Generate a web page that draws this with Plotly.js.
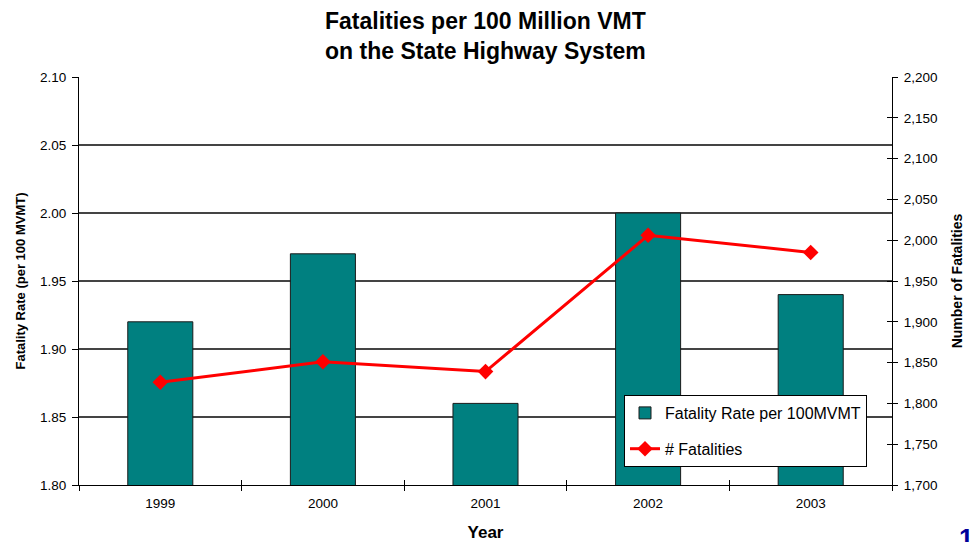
<!DOCTYPE html>
<html>
<head>
<meta charset="utf-8">
<script src="https://cdn.plot.ly/plotly-3.0.1.min.js"></script>
<style>html,body{margin:0;padding:0;background:#fff;}#chart{width:974px;height:542px;}</style>
</head>
<body>
<div id="chart"></div>
<script>
const years = ['1999', '2000', '2001', '2002', '2003'];
const fatalityRate = [1.92, 1.97, 1.86, 2.00, 1.94];
const fatalities = [1826, 1851, 1839, 2006, 1985];
const leftTicks = [1.80, 1.85, 1.90, 1.95, 2.00, 2.05, 2.10];
const rightTicks = [1700, 1750, 1800, 1850, 1900, 1950, 2000, 2050, 2100, 2150, 2200];

const FONT = '"Liberation Sans", Arial, sans-serif';

const traces = [
  {
    type: 'bar', x: years, y: fatalityRate, name: 'Fatality Rate per 100MVMT',
    marker: {color: '#008080', line: {color: '#1a1a1a', width: 1}},
    width: 0.4, legendgroup: 'a', yaxis: 'y'
  },
  {
    type: 'scatter', mode: 'lines+markers', x: years, y: fatalities, name: '# Fatalities',
    line: {color: '#FF0000', width: 3}, marker: {symbol: 'diamond', size: 12, color: '#FF0000'},
    legendgroup: 'b', yaxis: 'y2'
  },
  {type: 'scatter', x: [], y: [], yaxis: 'y3', showlegend: false, hoverinfo: 'skip'},
  {type: 'scatter', x: [], y: [], xaxis: 'x2', showlegend: false, hoverinfo: 'skip'}
];

const PL = 79, PR = 892, PT = 77, PB = 485;
const pw = PR - PL, ph = PB - PT;
const px = v => (v - PL) / pw;
const py = v => (PB - v) / ph;

const layout = {
  width: 974, height: 542,
  margin: {l: PL, r: 974 - PR, t: PT, b: 542 - PB},
  paper_bgcolor: '#fff', plot_bgcolor: '#fff',
  font: {family: FONT, color: '#000', size: 13.5},
  showlegend: true,
  legend: {
    x: px(624), y: py(395), xanchor: 'left', yanchor: 'top',
    bgcolor: '#fff', bordercolor: '#000', borderwidth: 1,
    font: {family: FONT, size: 16, color: '#000'},
    traceorder: 'grouped', tracegroupgap: 12
  },
  xaxis: {
    type: 'category', showgrid: false, showline: true, linecolor: '#000', linewidth: 1,
    ticks: 'outside', tickson: 'boundaries', ticklen: 5, tickcolor: '#000',
    ticklabelstandoff: 6, tickfont: {size: 13.5}, zeroline: false,
    title: {text: '<b>Year</b>', font: {size: 17}, standoff: 15}
  },
  yaxis: {
    range: [1.80, 2.10], tickvals: leftTicks, ticktext: leftTicks.map(v => v.toFixed(2)),
    showgrid: true, gridcolor: '#444444', gridwidth: 1.5,
    showline: true, linecolor: '#000', linewidth: 1,
    ticks: 'outside', ticklen: 6, tickcolor: '#000', zeroline: false,
    ticklabelstandoff: 3, tickfont: {size: 13.5},
    title: {text: '<b>Fatality Rate (per 100 MVMT)</b>', font: {size: 13}, standoff: 11}
  },
  yaxis2: {
    overlaying: 'y', side: 'right', range: [1700, 2200], tickvals: rightTicks,
    tickformat: ',', showgrid: false, showline: true, linecolor: '#000', linewidth: 1,
    ticks: 'outside', ticklen: 5, tickcolor: '#000', zeroline: false,
    ticklabelstandoff: 3, tickfont: {size: 13.5},
    title: {text: '<b>Number of Fatalities</b>', font: {size: 14}, standoff: 15}
  },
  yaxis3: {
    overlaying: 'y', side: 'right', range: [1700, 2200], tickvals: rightTicks,
    showticklabels: false, showgrid: false, showline: false,
    ticks: 'inside', ticklen: 5, tickcolor: '#000', zeroline: false
  },
  xaxis2: {
    overlaying: 'x', range: [-0.5, 4.5], tickvals: [0.5, 1.5, 2.5, 3.5],
    showticklabels: false, showgrid: false, showline: false,
    ticks: 'inside', ticklen: 5, tickcolor: '#000', zeroline: false
  },
  annotations: [
    {text: '<b>Fatalities per 100 Million VMT<br>on the State Highway System</b>',
     x: 0.5, xref: 'paper', y: py(6), yref: 'paper', xanchor: 'center', yanchor: 'top',
     showarrow: false, font: {family: FONT, size: 23, color: '#000'}},
    {text: '<b>1</b>', x: px(966), y: py(521), xref: 'paper', yref: 'paper', showarrow: false,
     font: {size: 26, color: '#000099', family: FONT}, xanchor: 'center', yanchor: 'top'}
  ]
};

Plotly.newPlot('chart', traces, layout, {displayModeBar: false, staticPlot: true});
</script>
</body>
</html>
